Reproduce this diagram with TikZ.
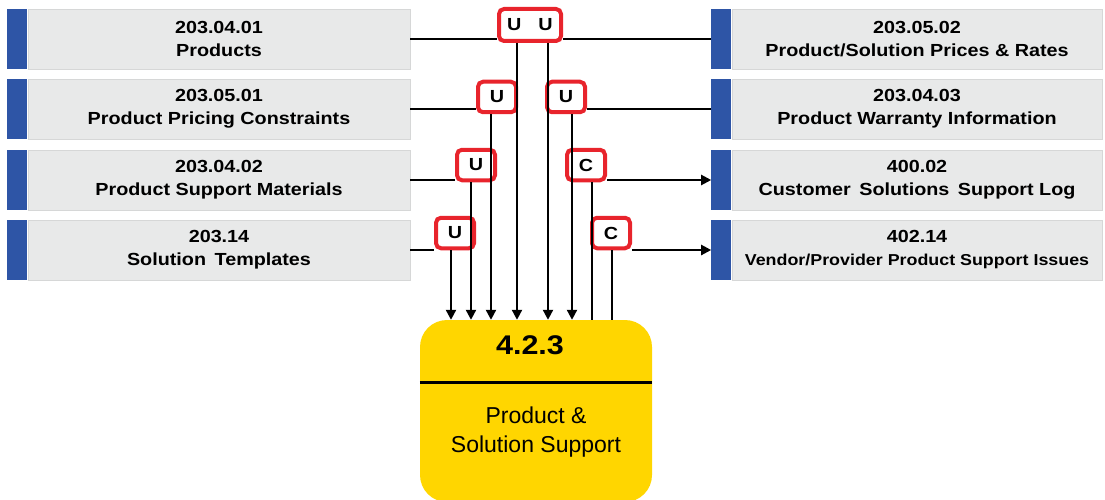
\documentclass[tikz,border=0pt]{standalone}
\usepackage{fontspec}
\setmainfont{Liberation Sans}
\newfontfamily\widefont{Liberation Sans}[FakeStretch=1.13]
\usetikzlibrary{arrows.meta}
\definecolor{stripe}{RGB}{46,85,166}
\definecolor{boxgrey}{RGB}{232,233,233}
\definecolor{boxline}{RGB}{214,215,215}
\definecolor{tagred}{RGB}{232,36,44}
\definecolor{procyellow}{RGB}{255,214,0}
\begin{document}
\begin{tikzpicture}[x=1pt,y=-1pt,
  ent/.style={draw=boxline, fill=boxgrey, line width=0.8pt, minimum height=60pt,
    inner sep=0pt, align=center, font=\widefont\bfseries\fontsize{17.5}{23}\selectfont},
  bar/.style={fill=stripe, minimum width=20pt, minimum height=60pt, inner sep=0pt, anchor=east},
  conn/.style={line width=2.2pt, draw=black},
  arr/.style={conn, -{Triangle[length=10pt,width=10pt]}},
  tag/.style={draw=tagred, line width=4pt, fill=white, rounded corners=5pt,
    minimum width=38pt, minimum height=30.5pt, inner sep=0pt,
    font=\widefont\bfseries\fontsize{17.5}{20}\selectfont},
  proc/.style={fill=procyellow, rounded corners=27pt, minimum width=232pt,
    minimum height=182pt, inner sep=0pt}]
\useasboundingbox (0,0) rectangle (1105,500);
\clip (0,0) rectangle (1105,500);

% data entities on the left
\node[ent, minimum width=382pt] (l1) at (219,39) {203.04.01\\Products};
\node[ent, minimum width=382pt] (l2) at (219,109) {203.05.01\\Product Pricing Constraints};
\node[ent, minimum width=382pt] (l3) at (219,180) {203.04.02\\Product Support Materials};
\node[ent, minimum width=382pt] (l4) at (219,250) {203.14\\Solution\hspace{3pt} Templates};
\foreach \n in {l1,l2,l3,l4} \node[bar] (\n s) at (\n.west) {};

% data entities on the right
\node[ent, minimum width=370pt] (r1) at (917,39) {203.05.02\\Product/Solution Prices \& Rates};
\node[ent, minimum width=370pt] (r2) at (917,109) {203.04.03\\Product Warranty Information};
\node[ent, minimum width=370pt] (r3) at (917,180) {400.02\\Customer\hspace{3pt} Solutions\hspace{3pt} Support Log};
\node[ent, minimum width=370pt] (r4) at (917,250) {402.14\\{\fontsize{15.8}{23}\selectfont Vendor/Provider Product Support Issues}};
\foreach \n in {r1,r2,r3,r4} \node[bar] (\n s) at (\n.west) {};

% the process
\node[proc] (p) at (536,411) {};
\draw[line width=3pt] (p.west |- 0,382) -- (p.east |- 0,382);
\node[font=\widefont\bfseries\fontsize{27}{30}\selectfont] (pid) at (530,345) {4.2.3};
\node[align=center, font=\fontsize{23}{29}\selectfont] (pname) at (536,432) {Product \&\\Solution Support};

% CRUD tags
\node[tag, minimum width=62pt, minimum height=32pt] (t1) at (530,25) {U\hspace{17pt}U};
\node[tag] (t2l) at (497,97) {U};
\node[tag] (t2r) at (566,97) {U};
\node[tag] (t3l) at (476,165) {U};
\node[tag] (t3r) at (586,165) {C};
\node[tag] (t4l) at (455,233) {U};
\node[tag] (t4r) at (611,233) {C};

% drop lines of the flows
\coordinate (xa) at (517,0);
\coordinate (xb) at (548,0);
\coordinate (xc) at (491,0);
\coordinate (xd) at (572,0);
\coordinate (xe) at (471,0);
\coordinate (xf) at (592,0);
\coordinate (xg) at (451,0);
\coordinate (xh) at (612,0);

% flows
\draw[conn] (l1.east) -- (l1.east -| t1.west);
\draw[conn] (t1.east |- r1s.west) -- (r1s.west);
\draw[arr] (xa |- t1.south) -- (xa |- p.north);
\draw[arr] (xb |- t1.south) -- (xb |- p.north);
\draw[conn] (l2.east) -- (l2.east -| t2l.west);
\draw[arr] (xc |- t2l.south) -- (xc |- p.north);
\draw[conn] (r2s.west) -- (r2s.west -| t2r.east);
\draw[arr] (xd |- t2r.south) -- (xd |- p.north);
\draw[conn] (l3.east) -- (l3.east -| t3l.west);
\draw[arr] (xe |- t3l.south) -- (xe |- p.north);
\draw[conn] (l4.east) -- (l4.east -| t4l.west);
\draw[arr] (xg |- t4l.south) -- (xg |- p.north);
\draw[conn] (xf |- p.north) -- (xf |- t3r.south);
\draw[arr] (t3r.east |- r3s.west) -- (r3s.west);
\draw[conn] (xh |- p.north) -- (xh |- t4r.south);
\draw[arr] (t4r.east |- r4s.west) -- (r4s.west);
\end{tikzpicture}
\end{document}
